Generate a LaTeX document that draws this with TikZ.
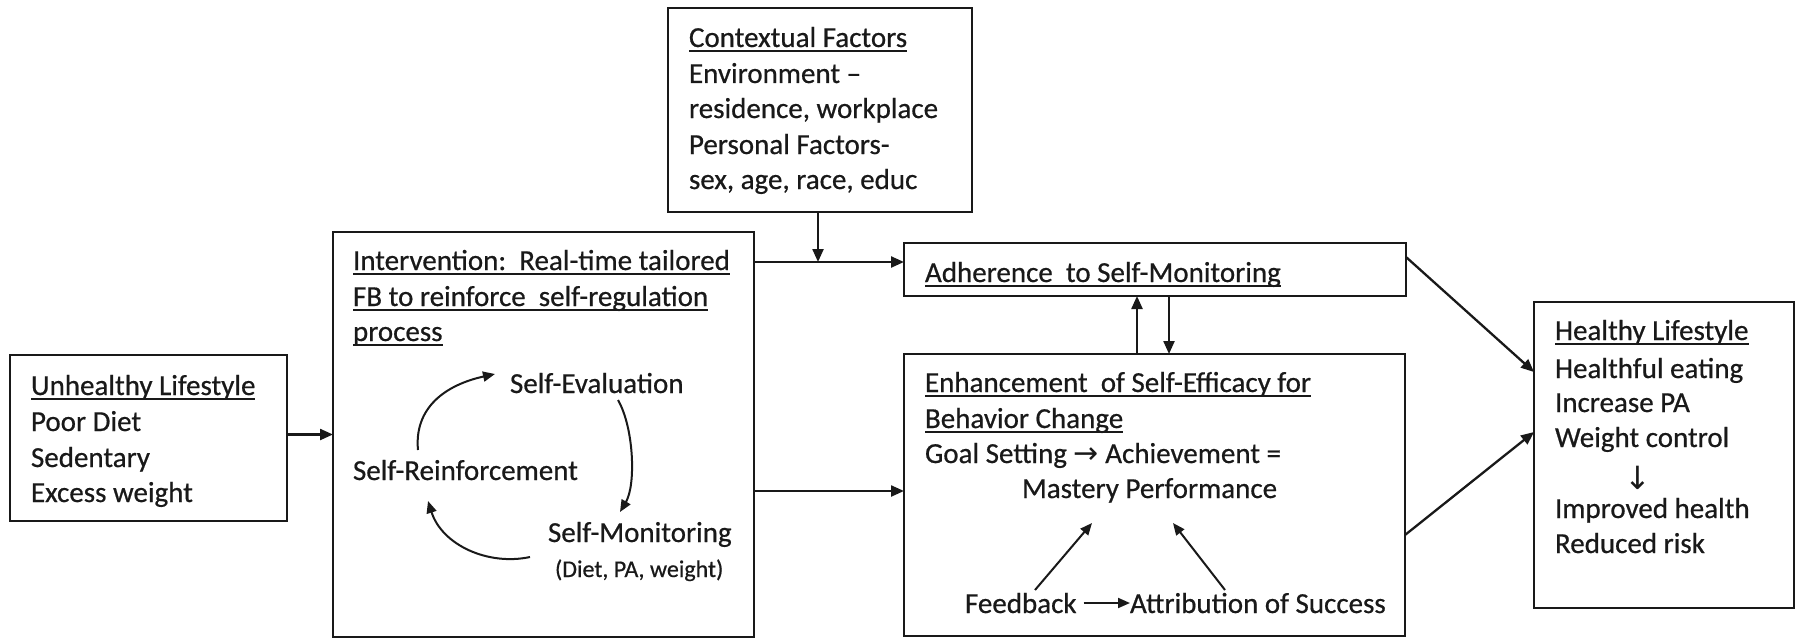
\documentclass[tikz,border=0pt]{standalone}
\usepackage{fontspec}
\setmainfont{Carlito}[FakeBold=0.6]
\newfontfamily\symf{DejaVu Sans}
\usetikzlibrary{arrows.meta}
\newcommand\ulx[1]{\setbox0\hbox{#1}\rlap{\rule[-5pt]{\wd0}{1.8pt}}\box0}
\newcommand\tline[3]{\node[txt] (#1) at (#2) {#3};}
\begin{document}
\begin{tikzpicture}[x=1pt,y=-1pt,
  box/.style={draw=black!90,line width=2.6pt,inner sep=0pt,outer sep=0pt,anchor=north west},
  txt/.style={anchor=base west,inner sep=0pt,outer sep=0pt,font=\fontsize{29}{35}\selectfont,text=black!90},
  small/.style={font=\fontsize{24}{29}\selectfont},
  arr/.style={draw=black!90,line width=2.3pt,-{Triangle[length=13pt,width=11pt]}},
  thinarr/.style={draw=black!90,line width=2pt,-{Triangle[length=12pt,width=10pt]}}]
\useasboundingbox (0,0) rectangle (1800,642);
% boxes
\node[box,minimum width=304pt,minimum height=204pt] (ctx) at (668,8) {};
\node[box,minimum width=421pt,minimum height=405pt] (int) at (333,232) {};
\node[box,minimum width=502pt,minimum height=53pt] (adh) at (904,243) {};
\node[box,minimum width=501pt,minimum height=282pt] (enh) at (904,354) {};
\node[box,minimum width=277pt,minimum height=166pt] (unh) at (10,355) {};
\node[box,minimum width=260pt,minimum height=306pt] (hl) at (1534,302) {};
% contextual
\tline{c1}{689,47}{\ulx{Contextual Factors}}
\tline{c2}{689,83}{Environment –}
\tline{c3}{689,118}{residence, workplace}
\tline{c4}{689,154}{Personal Factors-}
\tline{c5}{689,189}{sex, age, race, educ}
% unhealthy
\tline{u1}{31,395}{\ulx{Unhealthy Lifestyle}}
\tline{u2}{31,431}{Poor Diet}
\tline{u3}{31,467}{Sedentary}
\tline{u4}{31,502}{Excess weight}
% intervention
\tline{i1}{353,270}{\ulx{Intervention:\ \ Real-time tailored}}
\tline{i2}{353,306}{\ulx{FB to reinforce\ \ self-regulation}}
\tline{i3}{353,341}{\ulx{process}}
\tline{se}{510,393}{Self-Evaluation}
\tline{sr}{353,480}{Self-Reinforcement}
\tline{sm}{548,542}{Self-Monitoring}
\node[txt,small] (dpw) at (555,577) {(Diet, PA, weight)};
\coordinate (a1s) at (418,450); \coordinate (a1e) at (495,374);
\coordinate (a2s) at (618,400); \coordinate (a2e) at (620,512);
\coordinate (a3s) at (530,557); \coordinate (a3e) at (428,501);
\draw[thinarr] (a1s) .. controls (414,408) and (445,385) .. (a1e);
\draw[thinarr] (a2s) .. controls (634,428) and (636,485) .. (a2e);
\draw[thinarr] (a3s) .. controls (488,566) and (442,545) .. (a3e);
% adherence
\tline{ad}{925,282}{\ulx{Adherence\ \ to Self-Monitoring}}
% enhancement
\tline{e1}{925,392}{\ulx{Enhancement\ \ of Self-Efficacy for}}
\tline{e2}{925,428}{\ulx{Behavior Change}}
\tline{e3}{925,463}{Goal Setting {\symf\fontsize{30}{35}\selectfont →} Achievement =}
\tline{e4}{1022,498}{Mastery Performance}
\tline{fb}{965,613}{Feedback}
\tline{at}{1130,613}{Attribution of Success}
\coordinate (f1s) at (1035,590); \coordinate (f1e) at (1092,523);
\coordinate (f2s) at (1225,590); \coordinate (f2e) at (1173,523);
\draw[thinarr] (f1s) -- (f1e);
\draw[thinarr] (f2s) -- (f2e);
\draw[thinarr] (fb.east |- 0,603) ++(7,0) -- (at.west |- 0,603);
% healthy
\tline{h1}{1555,340}{\ulx{Healthy Lifestyle}}
\tline{h2}{1555,378}{Healthful eating}
\tline{h3}{1555,412}{Increase PA}
\tline{h4}{1555,447}{Weight control}
\node[txt,anchor=center] (h5) at (1638,478) {{\symf\fontsize{32}{36}\selectfont ↓}};
\tline{h6}{1555,518}{Improved health}
\tline{h7}{1555,553}{Reduced risk}
% connectors
\draw[arr] (unh.east |- int.west) -- (int.west);
\coordinate (j) at (818,262);
\draw[arr] (int.east |- j) -- (adh.west |- j);
\draw[arr] (ctx.south -| j) -- (j);
\draw[arr] (int.east |- 0,491) -- (enh.west |- 0,491);
\draw[arr] (enh.north -| 1137,0) -- (adh.south -| 1137,0);
\draw[arr] (adh.south -| 1169,0) -- (enh.north -| 1169,0);
\draw[arr] (adh.east |- 0,257) -- (hl.west |- 0,372);
\draw[arr] (enh.east |- 0,535) -- (hl.west |- 0,432);
\end{tikzpicture}
\end{document}
